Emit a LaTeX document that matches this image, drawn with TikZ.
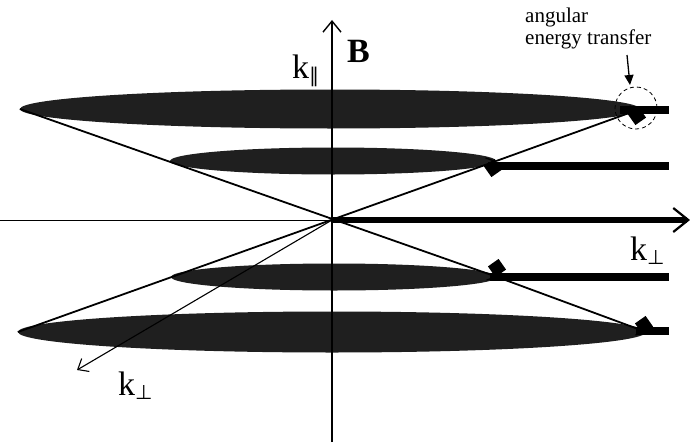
\documentclass[tikz,border=0pt]{standalone}
\usepackage{fontspec}
\setmainfont{Liberation Serif}
\newfontfamily\symf{DejaVu Sans}
\usetikzlibrary{arrows.meta,shapes.geometric}
\newcommand{\subsym}[1]{\raisebox{-0.28ex}{\fontsize{20}{20}\selectfont\symf #1}}
\begin{document}
\begin{tikzpicture}[x=1pt,y=-1pt,
  disc/.style={ellipse, fill=black!88, draw=none, inner sep=0pt},
  bar/.style={line width=8pt, line cap=butt},
  ray/.style={line width=1.8pt},
  barb/.style={-{Straight Barb[length=8pt,width=13pt,line width=1.3pt]}},
  gem/.style={rectangle, fill=black, draw=none, minimum size=13pt, inner sep=0pt, rotate=35},
  lab/.style={inner sep=0pt, anchor=base west},
  big/.style={font=\fontsize{34}{34}\selectfont},
  small/.style={font=\fontsize{21}{22}\selectfont}
]
\fill[white] (0,0) rectangle (690,444);
\useasboundingbox (0,0) rectangle (690,444);

% discs
\node[disc, minimum width=620pt, minimum height=39pt] (e1) at (330,109) {};
\node[disc, minimum width=326pt, minimum height=27pt] (e2) at (333,161) {};
\node[disc, minimum width=326pt, minimum height=27pt] (e3) at (334,277) {};
\node[disc, minimum width=628pt, minimum height=41pt] (e4) at (332,332) {};

% axes
\coordinate (O) at (332,220);
\coordinate (vtop) at (332,20);
\coordinate (vbot) at (332,442);
\coordinate (hleft) at (0,220);
\coordinate (hright) at (690,220);
\coordinate (kp) at (77,370);
\draw[line width=2.2pt, -{Straight Barb[length=11pt,width=18pt,line width=1.4pt]}] (vbot) -- (vtop);
\draw[line width=1pt] (hleft) -- (O);
\draw[line width=6.5pt, -{Straight Barb[length=15pt,width=24pt,line width=2.2pt]}] (O) -- (hright);
\draw[line width=1.1pt, -{Straight Barb[length=9pt,width=15pt]}] (O) -- (kp);

% bars
\coordinate (r1) at (669,110);
\coordinate (r2) at (669,166);
\coordinate (r3) at (669,277);
\coordinate (r4) at (669,331);
\coordinate (s1) at (620,110);
\coordinate (s2) at (488,166);
\coordinate (s3) at (490,277);
\coordinate (s4) at (636,331);
\draw[bar] (s1) -- (r1);
\draw[bar] (s2) -- (r2);
\draw[bar] (s3) -- (r3);
\draw[bar] (s4) -- (r4);

% rays
\draw[ray, barb] (e1.west) -- (e3.east);
\draw[ray, barb] (e3.east) -- (e4.east);
\draw[ray, barb] (e4.west) -- (e2.east);
\draw[ray, barb] (e2.east) -- (e1.east);

% transfer markers
\node[gem] (d1) at (637,116) {};
\node[gem] (d2) at (493,168) {};
\node[gem] (d3) at (497,268) {};
\node[gem] (d4) at (644,325) {};

% annotation
\node[circle, draw, dashed, dash pattern=on 4pt off 3pt, line width=0.8pt, minimum size=42pt, inner sep=0pt] (dc) at (636,108) {};
\coordinate (as) at (627,55);
\coordinate (ae) at (630,85);
\draw[line width=1.3pt, -{Triangle[length=10pt,width=9pt]}] (as) -- (ae);
\node[lab, small] (ang) at (525,23) {angular};
\node[lab, small] (ent) at (525,45) {energy transfer};

% labels
\node[lab, big] (kpar) at (292,78) {k\subsym{∥}};
\node[lab, font=\bfseries\fontsize{34}{34}\selectfont] (B) at (347,63) {B};
\node[lab, big] (kperpr) at (630,260) {k\subsym{⊥}};
\node[lab, big] (kperpl) at (118,395) {k\subsym{⊥}};
\end{tikzpicture}
\end{document}
